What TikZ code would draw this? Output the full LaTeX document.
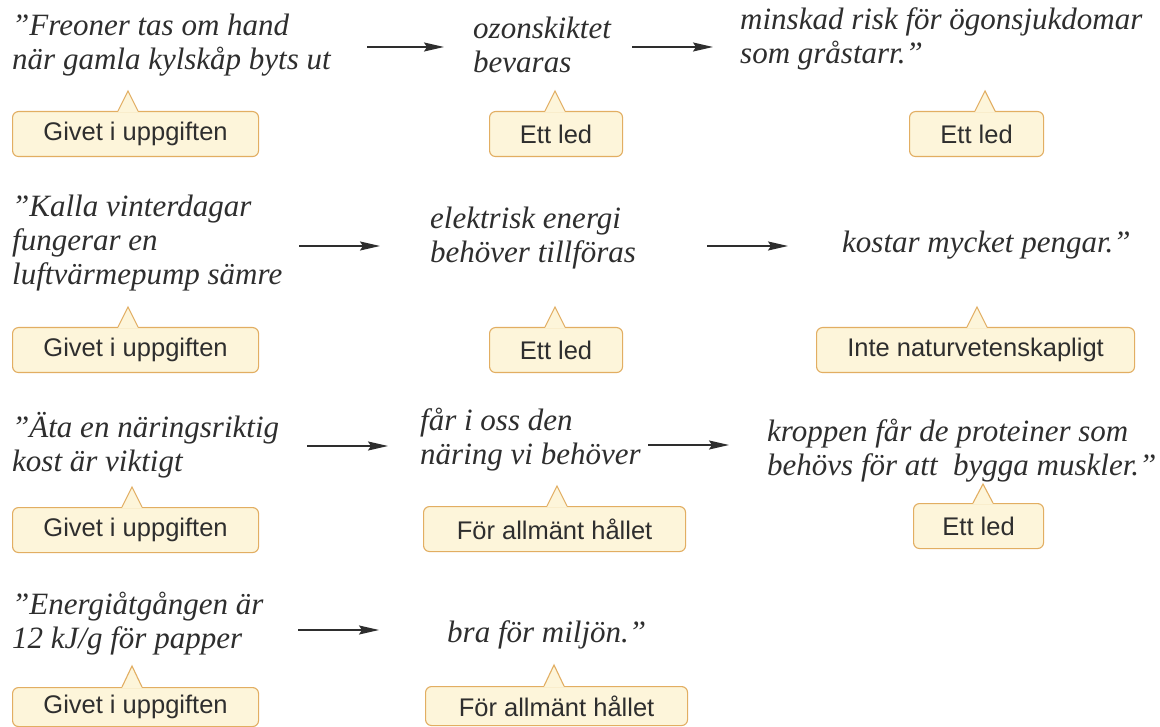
\documentclass[tikz,border=0pt]{standalone}
\usepackage{fontspec}
\setmainfont{Liberation Serif}
\newfontfamily\qfont{Liberation Serif}[ItalicFont={Liberation Serif Italic}]
\newfontfamily\boxfont{Liberation Sans}
\usetikzlibrary{arrows.meta}
\definecolor{cream}{HTML}{FDF5DA}
\definecolor{tan}{HTML}{E2AE62}
\definecolor{ink}{HTML}{2E2E2E}
\tikzset{
  x=1pt,y=-1pt,
  quote/.style={anchor=base west,align=left,inner sep=0pt,text=ink,
    font=\fontsize{31}{34}\selectfont\qfont\itshape},
  callbox/.style={draw=tan,fill=cream,line width=1.1pt,rounded corners=6pt,
    anchor=north west,inner sep=0pt,text=ink,
    font=\fontsize{25.5}{28}\selectfont\boxfont},
  flow/.style={draw=ink,line width=1.6pt,-{Stealth[length=20pt,width=9pt,inset=3pt]}},
}
% pointer: tip x, tip y, base y
\newcommand{\ptr}[3]{%
  \fill[cream] (#1-10,#3+1.2) -- (#1,#2) -- (#1+10,#3+1.2) -- cycle;
  \draw[tan,line width=1.1pt,line join=miter] (#1-10,#3) -- (#1,#2) -- (#1+10,#3);}
\begin{document}
\begin{tikzpicture}
\useasboundingbox (0,0) rectangle (1160,727);
\fill[white] (0,0) rectangle (1160,727);

% ---------- Row 1
\node[quote] (t11) at (12,70) {”Freoner tas om hand\\när gamla kylskåp byts ut};
\node[quote] (t12) at (473,73) {ozonskiktet\\bevaras};
\node[quote] (t13) at (740,64) {minskad risk för ögonsjukdomar\\som gråstarr.”};
\coordinate (a11) at (367,47); \coordinate (b11) at (444,47);
\coordinate (a12) at (632,47); \coordinate (b12) at (713,47);
\draw[flow] (a11) -- (b11);
\draw[flow] (a12) -- (b12);
\node[callbox,minimum width=246,minimum height=45] (c11) at (12,111) {Givet i uppgiften};
\ptr{128}{91}{111}
\node[callbox,minimum width=133,minimum height=45] (c12) at (489,111) {Ett led};
\ptr{555}{91}{111}
\node[callbox,minimum width=134,minimum height=45] (c13) at (909,111) {Ett led};
\ptr{985}{91}{111}

% ---------- Row 2
\node[quote] (t21) at (12,285) {”Kalla vinterdagar\\fungerar en\\luftvärmepump sämre};
\node[quote] (t22) at (430,263) {elektrisk energi\\behöver tillföras};
\node[quote] (t23) at (842,253) {kostar mycket pengar.”};
\coordinate (a21) at (299,246); \coordinate (b21) at (380,246);
\coordinate (a22) at (707,246); \coordinate (b22) at (788,246);
\draw[flow] (a21) -- (b21);
\draw[flow] (a22) -- (b22);
\node[callbox,minimum width=246,minimum height=45] (c21) at (12,327) {Givet i uppgiften};
\ptr{128}{307}{327}
\node[callbox,minimum width=133,minimum height=45] (c22) at (489,327) {Ett led};
\ptr{555}{307}{327}
\node[callbox,minimum width=318,minimum height=45] (c23) at (816,327) {Inte naturvetenskapligt};
\ptr{977}{307}{327}

% ---------- Row 3
\node[quote] (t31) at (12,471) {”Äta en näringsriktig\\kost är viktigt};
\node[quote] (t32) at (420,464) {får i oss den\\näring vi behöver};
\node[quote] (t33) at (767,475) {kroppen får de proteiner som\\behövs för att\ \ bygga muskler.”};
\coordinate (a31) at (307,446); \coordinate (b31) at (388,446);
\coordinate (a32) at (648,445); \coordinate (b32) at (729,445);
\draw[flow] (a31) -- (b31);
\draw[flow] (a32) -- (b32);
\node[callbox,minimum width=246,minimum height=45] (c31) at (12,507) {Givet i uppgiften};
\ptr{132}{487}{507}
\node[callbox,minimum width=262,minimum height=45] (c32) at (423,506) {För allmänt hållet};
\ptr{557}{486}{506}
\node[callbox,minimum width=130,minimum height=45] (c33) at (913,503) {Ett led};
\ptr{983}{484}{503}

% ---------- Row 4
\node[quote] (t41) at (12,648) {”Energiåtgången är\\12 kJ/g för papper};
\node[quote] (t42) at (447,642) {bra för miljön.”};
\coordinate (a41) at (298,630); \coordinate (b41) at (379,630);
\draw[flow] (a41) -- (b41);
\node[callbox,minimum width=246,minimum height=39] (c41) at (12,687) {Givet i uppgiften};
\ptr{132}{666}{687}
\node[callbox,minimum width=262,minimum height=39] (c42) at (425,686) {För allmänt hållet};
\ptr{554}{665}{686}
\end{tikzpicture}
\end{document}
